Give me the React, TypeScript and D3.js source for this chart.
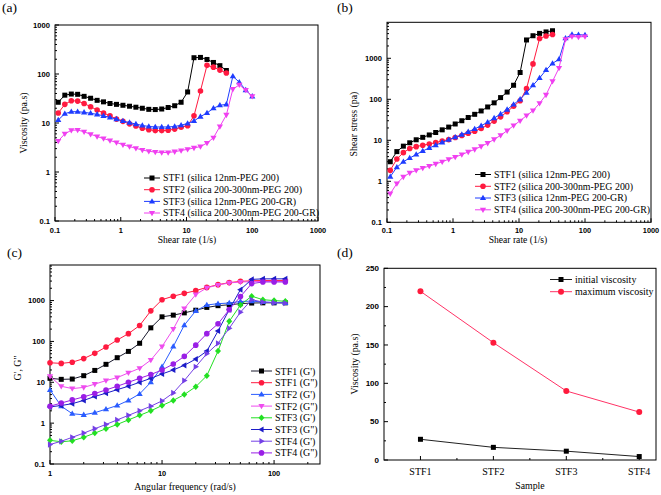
import React from 'react';
import * as d3 from 'd3';

// ---------- data ----------
const shearRate = [0.112, 0.141, 0.177, 0.221, 0.277, 0.348, 0.437, 0.547, 0.686, 0.861, 1.08, 1.36, 1.70, 2.13, 2.67, 3.35, 4.20, 5.26, 6.61, 8.28, 10.4, 13.0, 16.3, 20.5, 25.7, 32.2, 40.4, 50.7, 63.5, 79.6, 100];

const viscSTF1 = [26.5, 37, 39, 38.5, 35, 32, 29, 27, 25, 24, 23, 22, 21, 20, 19, 18.8, 19.3, 20.7, 22.5, 26.5, 43, 215, 218, 198, 172, 148, 118];
const viscSTF2 = [16, 24, 28.5, 28, 25, 21.5, 18.4, 16, 14, 12, 10.8, 9.6, 8.7, 7.8, 7.3, 7.0, 7.0, 7.1, 7.5, 8.2, 8.8, 14, 45, 150, 138, 120, 105];
const viscSTF3 = [11.5, 15.5, 17, 17, 16.5, 15.8, 15, 14, 13, 12, 11, 10.2, 9.5, 8.9, 8.5, 8.3, 8.3, 8.3, 8.5, 9.0, 9.8, 11, 13.5, 16, 20, 23, 24, 90, 68, 47, 35];
const viscSTF4 = [4.3, 6.0, 7.1, 7.2, 6.6, 5.9, 5.3, 4.8, 4.4, 4.0, 3.6, 3.3, 3.05, 2.8, 2.65, 2.55, 2.5, 2.5, 2.6, 2.75, 2.9, 3.1, 3.3, 3.9, 5.0, 8.5, 14.6, 49, 60, 47, 35];

const stressSTF1 = [3.0, 5.3, 7.2, 8.7, 10.3, 11.8, 13.5, 15.5, 18, 21, 25, 30, 36, 43, 52, 65, 82, 110, 150, 220, 450, 2800, 3550, 4050, 4400, 4700];
const stressSTF2 = [1.85, 3.5, 5.0, 6.3, 7.0, 7.6, 8.1, 8.8, 9.6, 10.4, 11.7, 13.1, 14.8, 16.7, 19.5, 23.5, 29.4, 37.3, 49.5, 68, 92, 182, 730, 3050, 3500, 3800];
const stressSTF3 = [1.3, 2.2, 3.0, 3.7, 4.5, 5.5, 6.5, 7.6, 8.9, 10.3, 11.9, 13.8, 16.1, 18.9, 22.7, 27.6, 34.8, 43.6, 56, 75, 100, 145, 220, 330, 520, 750, 950, 3100, 3800, 3750, 3700];
const stressSTF4 = [0.5, 0.88, 1.28, 1.6, 1.85, 2.1, 2.35, 2.65, 3.0, 3.45, 3.9, 4.5, 5.2, 6.0, 7.1, 8.5, 10.5, 13.2, 17.2, 22.8, 30, 40, 53, 80, 128, 275, 580, 2900, 3400, 3300, 3400];

const angFreq = [1, 1.26, 1.58, 2, 2.51, 3.16, 3.98, 5.01, 6.31, 7.94, 10, 12.6, 15.8, 20, 25.1, 31.6, 39.8, 50.1, 63.1, 79.4, 100, 126];
const gp1 = [12.5, 11.8, 12, 14.5, 19.5, 27.5, 40, 57, 90, 215, 400, 440, 500, 580, 680, 750, 790, 840, 870, 880, 880, 880];
const gpp1 = [30, 29, 31, 38, 51, 73, 108, 155, 245, 560, 1050, 1280, 1500, 1750, 2100, 2450, 2750, 2950, 3050, 3100, 3100, 3100];
const gp2 = [6.5, 2.6, 1.7, 1.6, 1.8, 2.2, 2.7, 3.6, 5.2, 10, 24, 75, 250, 560, 780, 840, 870, 950, 970, 920, 900, 880];
const gpp2 = [14, 8, 7, 7.5, 9, 11, 13, 17, 22, 35, 75, 200, 640, 1400, 2050, 2400, 2700, 2850, 2900, 2950, 2950, 2950];
const gp3 = [0.38, 0.35, 0.37, 0.45, 0.57, 0.73, 0.93, 1.2, 1.55, 2.0, 2.7, 3.6, 5.0, 7.8, 14.5, 58, 310, 780, 1280, 1050, 1000, 960];
const gpp3 = [2.5, 2.7, 3.0, 3.6, 4.5, 5.4, 6.6, 8, 10, 12.5, 16, 20, 26, 37, 58, 180, 600, 1850, 3300, 3400, 3400, 3400];
const gp4 = [0.3, 0.36, 0.45, 0.57, 0.73, 0.93, 1.2, 1.55, 2.0, 2.6, 3.5, 5.5, 11, 24, 50, 90, 210, 520, 1050, 920, 890, 870];
const gpp4 = [2.6, 3.1, 3.7, 4.4, 5.3, 6.5, 8, 10, 12.5, 15.5, 20, 28, 43, 81, 155, 270, 600, 1250, 2600, 2850, 2850, 2850];

const samples = ['STF1', 'STF2', 'STF3', 'STF4'];
const initialVisc = [27, 16.5, 11.5, 4.5];
const maxVisc = [220, 153, 90, 62.5];

const legendA = ['STF1 (silica 12nm-PEG 200)', 'STF2 (silica 200-300nm-PEG 200)', 'STF3 (silica 12nm-PEG 200-GR)', 'STF4 (silica 200-300nm-PEG 200-GR)'];
const legendC = ["STF1 (G')", 'STF1 (G")', "STF2 (G')", 'STF2 (G")', "STF3 (G')", 'STF3 (G")', "STF4 (G')", 'STF4 (G")'];
const legendD = ['initial viscosity', 'maximum viscosity'];

const ticksAB = [0.1, 1, 10, 100, 1000];
const ticksCx = [1, 10, 100];
const ticksCy = [0.1, 1, 10, 100, 1000];
const ticksDy = [0, 50, 100, 150, 200, 250];

// ---------- styles ----------
const SERIF = "'Liberation Serif', 'Times New Roman', serif";
const SANS = "'Liberation Sans', Arial, sans-serif";
const C_BLACK = '#000000';
const C_RED = '#ff1a40';
const C_BLUE = '#1e3cff';
const C_MAG = '#f040f0';

type Shape = 'square' | 'circle' | 'up' | 'down' | 'diamond' | 'left' | 'right';

function Marker({ shape, x, y, size, color }: { shape: Shape; x: number; y: number; size: number; color: string }) {
  if (shape === 'circle') return <circle cx={x} cy={y} r={size / 2} fill={color} />;
  const h = size / 2;
  let d = '';
  switch (shape) {
    case 'square': d = `M${-h},${-h}H${h}V${h}H${-h}Z`; break;
    case 'up': d = `M0,${-h * 1.25}L${h * 1.2},${h * 0.8}L${-h * 1.2},${h * 0.8}Z`; break;
    case 'down': d = `M0,${h * 1.25}L${h * 1.2},${-h * 0.8}L${-h * 1.2},${-h * 0.8}Z`; break;
    case 'diamond': d = `M0,${-h * 1.25}L${h * 1.15},0L0,${h * 1.25}L${-h * 1.15},0Z`; break;
    case 'left': d = `M${-h * 1.25},0L${h * 0.8},${-h * 1.2}L${h * 0.8},${h * 1.2}Z`; break;
    case 'right': d = `M${h * 1.25},0L${-h * 0.8},${-h * 1.2}L${-h * 0.8},${h * 1.2}Z`; break;
  }
  return <path transform={`translate(${x},${y})`} d={d} fill={color} />;
}

type Series = { xs: number[]; ys: number[]; color: string; line?: string; shape: Shape; size: number };

function SeriesPlot({ s, x, y }: { s: Series; x: (v: number) => number; y: (v: number) => number }) {
  const pts: [number, number][] = s.ys.map((v, i) => [s.xs[i], v]);
  const gen = d3.line<[number, number]>().x(d => x(d[0])).y(d => y(d[1]));
  return (
    <g>
      <path d={gen(pts) || ''} fill="none" stroke={s.line || s.color} strokeWidth={1} />
      {pts.map((p, i) => <Marker key={i} shape={s.shape} x={x(p[0])} y={y(p[1])} size={s.size} color={s.color} />)}
    </g>
  );
}

function logMinor(domain: number[]) {
  const out: number[] = [];
  const lo = Math.floor(Math.log10(domain[0]));
  const hi = Math.ceil(Math.log10(domain[1]));
  for (let k = lo; k <= hi; k++) {
    for (let m = 2; m <= 9; m++) {
      const v = m * Math.pow(10, k);
      if (v > domain[0] && v < domain[1]) out.push(v);
    }
  }
  return out;
}

function fmt(v: number) {
  return v < 1 ? String(v) : String(Math.round(v));
}

function LogPanel({ x, y, xTicks, yTicks, xLabelDy }: any) {
  const [x0, x1] = x.range();
  const [y1, y0] = y.range();
  const xm = logMinor(x.domain());
  const ym = logMinor(y.domain());
  return (
    <g>
      <rect x={x0} y={y0} width={x1 - x0} height={y1 - y0} fill="none" stroke="#000" strokeWidth={1} />
      {xTicks.map((t: number) => (
        <g key={'x' + t}>
          <line x1={x(t)} x2={x(t)} y1={y1} y2={y1 - 4} stroke="#000" />
          <text x={x(t)} y={y1 + xLabelDy} textAnchor="middle" fontFamily={SANS} fontWeight="bold" fontSize={7.4}>{fmt(t)}</text>
        </g>
      ))}
      {xm.map((t: number) => <line key={'xm' + t} x1={x(t)} x2={x(t)} y1={y1} y2={y1 - 2} stroke="#000" />)}
      {yTicks.map((t: number) => (
        <g key={'y' + t}>
          <line x1={x0} x2={x0 + 4} y1={y(t)} y2={y(t)} stroke="#000" />
          <text x={x0 - 5} y={y(t)} dy="0.35em" textAnchor="end" fontFamily={SANS} fontWeight="bold" fontSize={7.6}>{fmt(t)}</text>
        </g>
      ))}
      {ym.map((t: number) => <line key={'ym' + t} x1={x0} x2={x0 + 2} y1={y(t)} y2={y(t)} stroke="#000" />)}
    </g>
  );
}

function Legend({ items, x, ys, lineW, fontSize }: any) {
  return (
    <g>
      {items.map((it: any, i: number) => (
        <g key={i}>
          <line x1={x} x2={x + lineW} y1={ys[i]} y2={ys[i]} stroke={it.line || it.color} strokeWidth={1} />
          <Marker shape={it.shape} x={x + lineW / 2} y={ys[i]} size={it.size} color={it.color} />
          <text x={x + lineW + 3} y={ys[i]} dy="0.35em" fontFamily={SERIF} fontSize={fontSize}>{it.label}</text>
        </g>
      ))}
    </g>
  );
}

export default function App() {
  // (a)
  const xa = d3.scaleLog().domain([0.1, 1000]).range([55, 318]);
  const ya = d3.scaleLog().domain([0.1, 1000]).range([221, 25]);
  const seriesA: Series[] = [
    { xs: shearRate, ys: viscSTF1, color: C_BLACK, shape: 'square', size: 5 },
    { xs: shearRate, ys: viscSTF2, color: C_RED, shape: 'circle', size: 5.6 },
    { xs: shearRate, ys: viscSTF3, color: C_BLUE, shape: 'up', size: 5.2 },
    { xs: shearRate, ys: viscSTF4, color: C_MAG, shape: 'down', size: 5.2 },
  ];
  // (b)
  const xb = d3.scaleLog().domain([0.1, 1000]).range([387, 651]);
  const yb = d3.scaleLog().domain([0.1, 7550]).range([222.3, 22.3]);
  const seriesB: Series[] = [
    { xs: shearRate, ys: stressSTF1, color: C_BLACK, shape: 'square', size: 5 },
    { xs: shearRate, ys: stressSTF2, color: C_RED, shape: 'circle', size: 5.6 },
    { xs: shearRate, ys: stressSTF3, color: C_BLUE, shape: 'up', size: 5.2 },
    { xs: shearRate, ys: stressSTF4, color: C_MAG, shape: 'down', size: 5.2 },
  ];
  // (c)
  const xc = d3.scaleLog().domain([1, 257]).range([50, 320]);
  const yc = d3.scaleLog().domain([0.1, 7420]).range([464, 265]);
  const seriesC: Series[] = [
    { xs: angFreq, ys: gp1, color: C_BLACK, line: '#1a1a2e', shape: 'square', size: 5 },
    { xs: angFreq, ys: gpp1, color: C_RED, shape: 'circle', size: 5.6 },
    { xs: angFreq, ys: gp2, color: '#2a5cff', shape: 'up', size: 5.2 },
    { xs: angFreq, ys: gpp2, color: '#ee4cee', shape: 'down', size: 5.2 },
    { xs: angFreq, ys: gp3, color: '#22e022', shape: 'diamond', size: 5.2 },
    { xs: angFreq, ys: gpp3, color: '#1c1cc8', shape: 'left', size: 5.2 },
    { xs: angFreq, ys: gp4, color: '#7440e6', shape: 'right', size: 5.2 },
    { xs: angFreq, ys: gpp4, color: '#9a1ee6', shape: 'circle', size: 5.6 },
  ];
  // (d)
  const xd = d3.scaleLinear().domain([0.5, 4.23]).range([384, 656]);
  const yd = d3.scaleLinear().domain([0, 250]).range([460, 268.3]);
  const sampleIdx = samples.map((_, i) => i + 1);
  const seriesD: Series[] = [
    { xs: sampleIdx, ys: initialVisc, color: C_BLACK, line: '#222', shape: 'square', size: 5 },
    { xs: sampleIdx, ys: maxVisc, color: '#ff1a3c', line: '#ff3366', shape: 'circle', size: 6 },
  ];

  const legAys = [178, 189.7, 201.4, 213];
  const legBys = [174.5, 186.3, 198, 209.8];
  const legCys = legendC.map((_, i) => 371 + i * 11.7);
  const legDys = [279.5, 291.7];

  return (
    <svg width={661} height={495} style={{ position: 'absolute', left: 0, top: 0, background: '#fff' }}>
      <rect x={0} y={0} width={661} height={495} fill="#fff" />

      {/* (a) */}
      <text x={2} y={12} fontFamily={SERIF} fontSize={13.5}>(a)</text>
      <LogPanel x={xa} y={ya} xTicks={ticksAB} yTicks={ticksAB} xLabelDy={11.5} />
      {seriesA.map((s, i) => <SeriesPlot key={i} s={s} x={xa} y={ya} />)}
      <Legend items={seriesA.map((s, i) => ({ ...s, label: legendA[i] }))} x={144} ys={legAys} lineW={16} fontSize={9.9} />
      <text transform={`translate(27,123) rotate(-90)`} textAnchor="middle" fontFamily={SERIF} fontSize={9.8}>Viscosity (pa.s)</text>
      <text x={187} y={243} textAnchor="middle" fontFamily={SERIF} fontSize={9.6}>Shear rate (1/s)</text>

      {/* (b) */}
      <text x={337} y={12} fontFamily={SERIF} fontSize={13.5}>(b)</text>
      <LogPanel x={xb} y={yb} xTicks={ticksAB} yTicks={ticksAB} xLabelDy={10.3} />
      {seriesB.map((s, i) => <SeriesPlot key={i} s={s} x={xb} y={yb} />)}
      <Legend items={seriesB.map((s, i) => ({ ...s, label: legendA[i] }))} x={475} ys={legBys} lineW={16} fontSize={9.9} />
      <text transform={`translate(357,124) rotate(-90)`} textAnchor="middle" fontFamily={SERIF} fontSize={9.8}>Shear stress (pa)</text>
      <text x={518} y={243} textAnchor="middle" fontFamily={SERIF} fontSize={9.6}>Shear rate (1/s)</text>

      {/* (c) */}
      <text x={7} y={257} fontFamily={SERIF} fontSize={13.5}>(c)</text>
      <LogPanel x={xc} y={yc} xTicks={ticksCx} yTicks={ticksCy} xLabelDy={11.5} />
      {seriesC.map((s, i) => <SeriesPlot key={i} s={s} x={xc} y={yc} />)}
      <Legend items={seriesC.map((s, i) => ({ ...s, label: legendC[i] }))} x={251} ys={legCys} lineW={21} fontSize={10} />
      <text transform={`translate(21,368) rotate(-90)`} textAnchor="middle" fontFamily={SERIF} fontSize={9.8}>G', G"</text>
      <text x={185} y={490} textAnchor="middle" fontFamily={SERIF} fontSize={9.8}>Angular frequency (rad/s)</text>

      {/* (d) */}
      <text x={337} y={257} fontFamily={SERIF} fontSize={13.5}>(d)</text>
      <g>
        <rect x={384} y={268.3} width={656 - 384} height={460 - 268.3} fill="none" stroke="#000" strokeWidth={1} />
        {sampleIdx.map((v, i) => (
          <g key={'dx' + i}>
            <line x1={xd(v)} x2={xd(v)} y1={460} y2={456} stroke="#000" />
            <text x={xd(v)} y={475} textAnchor="middle" fontFamily={SERIF} fontSize={10}>{samples[i]}</text>
          </g>
        ))}
        {sampleIdx.slice(0, 3).map((v, i) => (
          <line key={'dxm' + i} x1={xd(v + 0.5)} x2={xd(v + 0.5)} y1={460} y2={458} stroke="#000" />
        ))}
        {ticksDy.map(t => (
          <g key={'dy' + t}>
            <line x1={384} x2={388} y1={yd(t)} y2={yd(t)} stroke="#000" />
            <text x={379} y={yd(t)} dy="0.35em" textAnchor="end" fontFamily={SANS} fontWeight="bold" fontSize={8}>{t}</text>
          </g>
        ))}
        {ticksDy.slice(0, -1).map(t => (
          <line key={'dym' + t} x1={384} x2={386} y1={yd(t + 25)} y2={yd(t + 25)} stroke="#000" />
        ))}
      </g>
      {seriesD.map((s, i) => <SeriesPlot key={i} s={s} x={xd} y={yd} />)}
      <Legend items={seriesD.map((s, i) => ({ ...s, label: legendD[i] }))} x={550} ys={legDys} lineW={22} fontSize={10} />
      <text transform={`translate(358,364) rotate(-90)`} textAnchor="middle" fontFamily={SERIF} fontSize={9.8}>Viscosity (pa.s)</text>
      <text x={530} y={489} textAnchor="middle" fontFamily={SERIF} fontSize={9.8}>Sample</text>
    </svg>
  );
}
